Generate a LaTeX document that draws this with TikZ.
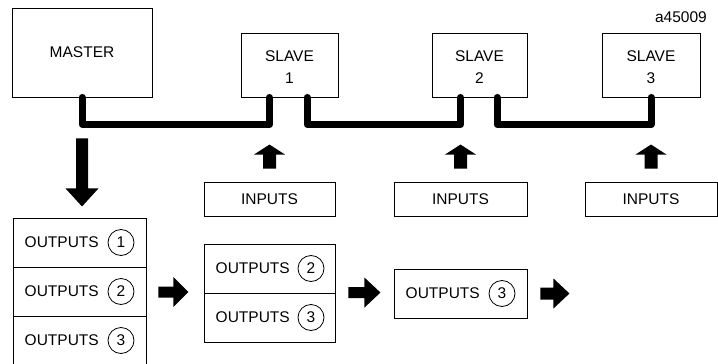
\documentclass[tikz,border=0pt]{standalone}
\usepackage{fontspec}
\setmainfont{Liberation Sans}
\usetikzlibrary{calc}

\tikzset{
  lbl/.style={font=\fontsize{15.5}{22}\selectfont, inner sep=0pt},
  box/.style={draw, line width=0.9pt, inner sep=0pt, align=center,
              font=\fontsize{15.5}{22}\selectfont},
  cell/.style={box, minimum width=133pt, minimum height=49pt},
  num/.style={draw, circle, line width=0.8pt, minimum size=26pt, inner sep=0pt,
              font=\fontsize{15.5}{18}\selectfont},
  bus/.style={line width=7pt, line cap=round, line join=round},
  % solid block arrow: shaft length / head length / shaft width / head width
  pics/blkarrow/.style args={#1/#2/#3/#4}{code={
    \fill (0,-#3/2) -- (#1,-#3/2) -- (#1,-#4/2) -- (#1+#2,0)
          -- (#1,#4/2) -- (#1,#3/2) -- (0,#3/2) -- cycle;
  }},
}

\begin{document}
\begin{tikzpicture}[x=1pt, y=-1pt]
  \useasboundingbox (0,0) rectangle (718,364);

  % controller and remote stations
  \node[box, minimum width=140pt, minimum height=89pt] (master) at (82,52.5) {MASTER};
  \node[box, minimum width=97pt, minimum height=64pt] (slave1) at (289.5,65) {\strut SLAVE\\1};
  \node[box, minimum width=95pt, minimum height=64pt] (slave2) at (479.5,65) {\strut SLAVE\\2};
  \node[box, minimum width=98pt, minimum height=64pt] (slave3) at (651,65) {\strut SLAVE\\3};
  \node[lbl, anchor=east] (fig) at (707,17) {a45009};

  % input blocks
  \node[box, minimum width=131pt, minimum height=34pt] (in1) at (269.5,199) {INPUTS};
  \node[box, minimum width=133pt, minimum height=34pt] (in2) at (460.5,199) {INPUTS};
  \node[box, minimum width=132pt, minimum height=34pt] (in3) at (651,199) {INPUTS};

  % bus segments between stations
  \draw[bus] (master.south) -- (master.south |- 0,124.5) -| (slave1.south -| in1.north);
  \draw[bus] (slave1.south -| 307,0) -- (307,124.5) -| (slave2.south -| in2.north);
  \draw[bus] (slave2.south -| 497,0) -- (497,124.5) -| (slave3.south -| in3.north);

  % input arrows
  \foreach \i in {1,2,3}{
    \pic[rotate=90] at ($(in\i.north)+(0,-13)$) {blkarrow=14/10/13/31};
  }

  % output tables
  \node[cell] (o11) at (79.5,242.5) {};
  \node[cell] (o12) at (79.5,291.5) {};
  \node[cell, minimum height=56pt] (o13) at (79.5,344) {};
  \node[cell, minimum width=131pt] (o21) at (269.5,268.5) {};
  \node[cell, minimum width=131pt] (o22) at (269.5,317.5) {};
  \node[cell] (o31) at (460.5,293.5) {};

  \foreach \c/\n/\dx in {o11/1/0, o12/2/0, o21/2/1, o22/3/1, o31/3/0}{
    \node[lbl, anchor=east] (\c t) at ($(\c.center)+(19.5+\dx,0)$) {OUTPUTS};
    \node[num] (\c n) at ($(\c.center)+(41.5,0)$) {\n};
  }
  \node[lbl, anchor=east] (o13t) at ($(o12.center)+(19.5,49)$) {OUTPUTS};
  \node[num] (o13n) at ($(o12.center)+(41.5,49)$) {3};

  % flow of output data
  \pic[rotate=-90] at ($(master.south)+(0,41)$) {blkarrow=50/18/12/33};
  \pic at ($(o12.east)+(12,0.5)$) {blkarrow=15/15/11/30};
  \pic at ($(o22.north east)+(13,0)$) {blkarrow=16/16/11/30};
  \pic at ($(o31.east)+(13,0)$) {blkarrow=13/16/12/30};
\end{tikzpicture}
\end{document}
